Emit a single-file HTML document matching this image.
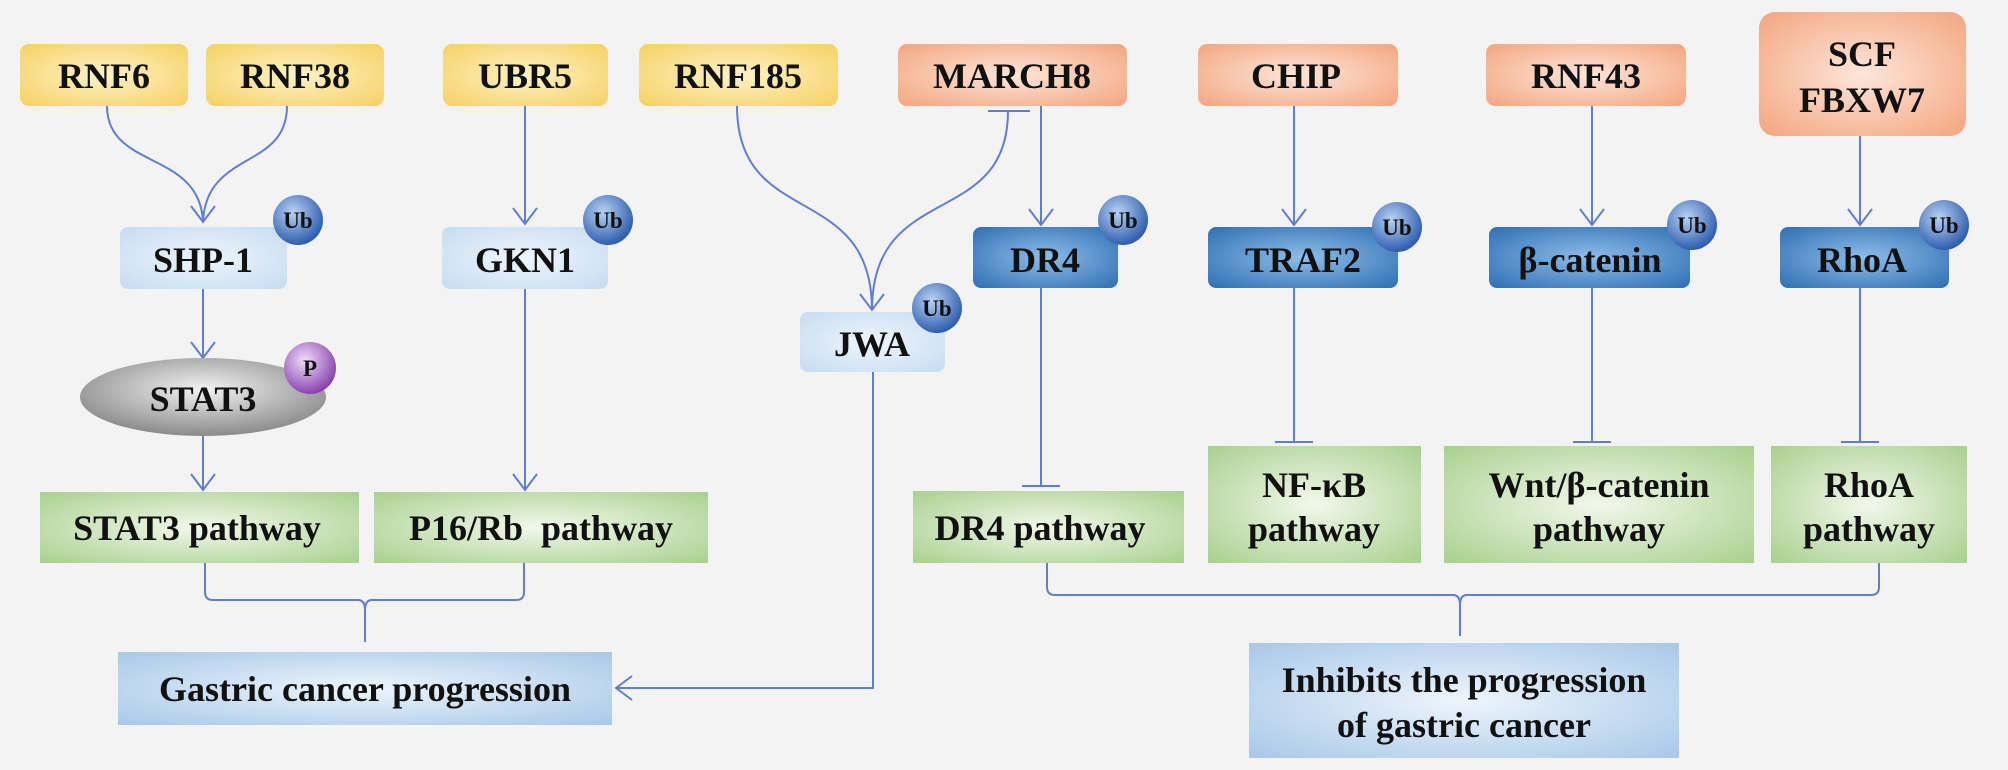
<!DOCTYPE html>
<html><head><meta charset="utf-8"><style>
html,body{margin:0;padding:0;background:#f3f3f3;}
svg{display:block;}
text{font-family:"Liberation Serif",serif;font-weight:bold;fill:#111;text-anchor:middle;}
</style></head><body>
<svg width="2008" height="770" viewBox="0 0 2008 770" xmlns="http://www.w3.org/2000/svg">
<defs>
<radialGradient id="yel" cx="50%" cy="50%" r="70%"><stop offset="0" stop-color="#fdf3c8"/><stop offset="1" stop-color="#f6d062"/></radialGradient>
<radialGradient id="org" cx="50%" cy="50%" r="70%"><stop offset="0" stop-color="#fde6da"/><stop offset="1" stop-color="#f3a57e"/></radialGradient>
<radialGradient id="lb" cx="50%" cy="50%" r="70%"><stop offset="0" stop-color="#eef5fc"/><stop offset="1" stop-color="#c6dcf2"/></radialGradient>
<radialGradient id="db" cx="50%" cy="50%" r="70%"><stop offset="0" stop-color="#8ebde8"/><stop offset="1" stop-color="#2f6fb3"/></radialGradient>
<radialGradient id="gr" cx="50%" cy="50%" r="70%"><stop offset="0" stop-color="#f2f8ec"/><stop offset="1" stop-color="#a9d08e"/></radialGradient>
<radialGradient id="bl" cx="50%" cy="50%" r="70%"><stop offset="0" stop-color="#eef5fc"/><stop offset="1" stop-color="#a8c8e8"/></radialGradient>
<radialGradient id="ub" cx="40%" cy="35%" r="65%"><stop offset="0" stop-color="#b9d2f2"/><stop offset="1" stop-color="#2f5eb0"/></radialGradient>
<radialGradient id="pp" cx="40%" cy="35%" r="65%"><stop offset="0" stop-color="#f0dcf8"/><stop offset="1" stop-color="#8a44b0"/></radialGradient>
<radialGradient id="gy" cx="50%" cy="40%" r="60%"><stop offset="0" stop-color="#f2f2f2"/><stop offset="1" stop-color="#8a8a8a"/></radialGradient>
</defs>
<g stroke="#5f7fce" stroke-width="2" fill="none">
<path d="M107 106 C107 170 200 150 203 222"/>
<path d="M287 106 C287 170 206 150 203 222"/>
<path d="M191 206 L203 222 L215 206"/>
<path d="M525 106 L525 224 M513 208 L525 224 L537 208"/>
<path d="M203 289 L203 358 M191 342 L203 358 L215 342"/>
<path d="M203 436 L203 490 M191 474 L203 490 L215 474"/>
<path d="M525 289 L525 490 M513 474 L525 490 L537 474"/>
<path d="M737 106 C737 230 872 180 872 310"/>
<path d="M1008 111 C1008 230 872 180 872 310"/>
<path d="M860 294 L872 310 L884 294"/>
<path d="M988 111 L1030 111"/>
<path d="M1041 106 L1041 225 M1029 209 L1041 225 L1053 209"/>
<path d="M873 372 L873 688 L616 688 M632 676 L616 688 L632 700"/>
<path d="M1294 106 L1294 225 M1282 209 L1294 225 L1306 209"/>
<path d="M1592 106 L1592 225 M1580 209 L1592 225 L1604 209"/>
<path d="M1860 134 L1860 225 M1848 209 L1860 225 L1872 209"/>
<path d="M1041 288 L1041 486 M1022 486 L1060 486"/>
<path d="M1294 288 L1294 442 M1275 442 L1313 442"/>
<path d="M1592 288 L1592 442 M1573 442 L1611 442"/>
<path d="M1860 288 L1860 442 M1841 442 L1879 442"/>
<path d="M205 563 L205 592 Q205 600 213 600 L358 600 Q365 600 365 610 L365 642 M365 610 Q365 600 372 600 L516 600 Q524 600 524 592 L524 563"/>
<path d="M1047 563 L1047 587 Q1047 595 1055 595 L1453 595 Q1460 595 1460 605 L1460 636 M1460 605 Q1460 595 1467 595 L1871 595 Q1879 595 1879 587 L1879 563"/>
</g>
<g font-size="36">
<rect x="20" y="44" width="168" height="62" rx="9" fill="url(#yel)"/><text x="104" y="88">RNF6</text>
<rect x="206" y="44" width="178" height="62" rx="9" fill="url(#yel)"/><text x="295" y="88">RNF38</text>
<rect x="443" y="44" width="165" height="62" rx="9" fill="url(#yel)"/><text x="525" y="88">UBR5</text>
<rect x="639" y="44" width="199" height="62" rx="9" fill="url(#yel)"/><text x="738" y="88">RNF185</text>
<rect x="898" y="44" width="229" height="62" rx="9" fill="url(#org)"/><text x="1012" y="88">MARCH8</text>
<rect x="1198" y="44" width="200" height="62" rx="9" fill="url(#org)"/><text x="1296" y="88">CHIP</text>
<rect x="1486" y="44" width="200" height="62" rx="9" fill="url(#org)"/><text x="1586" y="88">RNF43</text>
<rect x="1759" y="12" width="207" height="124" rx="16" fill="url(#org)"/><text x="1862" y="66">SCF</text><text x="1862" y="112">FBXW7</text>
<rect x="120" y="227" width="167" height="62" rx="8" fill="url(#lb)"/><text x="203" y="272">SHP-1</text>
<rect x="442" y="227" width="166" height="62" rx="8" fill="url(#lb)"/><text x="525" y="272">GKN1</text>
<rect x="800" y="312" width="145" height="60" rx="8" fill="url(#lb)"/><text x="872" y="356">JWA</text>
<rect x="973" y="227" width="145" height="61" rx="8" fill="url(#db)"/><text x="1045" y="272">DR4</text>
<rect x="1208" y="227" width="190" height="61" rx="8" fill="url(#db)"/><text x="1303" y="272">TRAF2</text>
<rect x="1489" y="227" width="201" height="61" rx="8" fill="url(#db)"/><text x="1590" y="272">β-catenin</text>
<rect x="1780" y="227" width="169" height="61" rx="8" fill="url(#db)"/><text x="1862" y="272">RhoA</text>
<ellipse cx="203" cy="397" rx="123" ry="39" fill="url(#gy)"/><text x="203" y="411">STAT3</text>
</g>
<g font-size="23">
<circle cx="298" cy="220" r="25" fill="url(#ub)"/><text x="298" y="228">Ub</text>
<circle cx="608" cy="220" r="25" fill="url(#ub)"/><text x="608" y="228">Ub</text>
<circle cx="937" cy="308" r="25" fill="url(#ub)"/><text x="937" y="316">Ub</text>
<circle cx="1123" cy="220" r="25" fill="url(#ub)"/><text x="1123" y="228">Ub</text>
<circle cx="1397" cy="227" r="25" fill="url(#ub)"/><text x="1397" y="235">Ub</text>
<circle cx="1692" cy="225" r="25" fill="url(#ub)"/><text x="1692" y="233">Ub</text>
<circle cx="1944" cy="225" r="25" fill="url(#ub)"/><text x="1944" y="233">Ub</text>
<circle cx="310" cy="368" r="26" fill="url(#pp)"/><text x="310" y="376">P</text>
</g>
<g font-size="36">
<rect x="40" y="492" width="319" height="71" fill="url(#gr)"/><text x="197" y="540">STAT3 pathway</text>
<rect x="374" y="492" width="334" height="71" fill="url(#gr)"/><text x="541" y="540" xml:space="preserve">P16/Rb  pathway</text>
<rect x="913" y="491" width="271" height="72" fill="url(#gr)"/><text x="1040" y="540">DR4 pathway</text>
<rect x="1208" y="446" width="213" height="117" fill="url(#gr)"/><text x="1314" y="497">NF-κB</text><text x="1314" y="541">pathway</text>
<rect x="1444" y="446" width="310" height="117" fill="url(#gr)"/><text x="1599" y="497">Wnt/β-catenin</text><text x="1599" y="541">pathway</text>
<rect x="1771" y="446" width="196" height="117" fill="url(#gr)"/><text x="1869" y="497">RhoA</text><text x="1869" y="541">pathway</text>
<rect x="118" y="652" width="494" height="73" fill="url(#bl)"/><text x="365" y="701">Gastric cancer progression</text>
<rect x="1249" y="643" width="430" height="115" fill="url(#bl)"/><text x="1464" y="692">Inhibits the progression</text><text x="1464" y="737">of gastric cancer</text>
</g>
</svg>
</body></html>
